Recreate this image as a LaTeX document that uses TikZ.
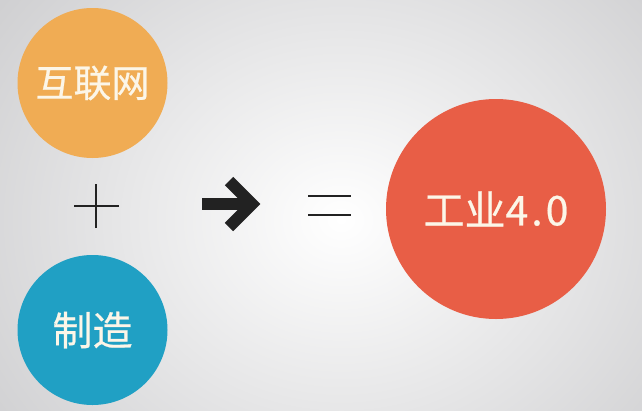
\documentclass[tikz,border=0pt]{standalone}
\usepackage{fontspec}
\newfontfamily\cjk[FakeBold=0.6]{Noto Sans CJK SC}
\definecolor{orangeC}{RGB}{240,172,84}
\definecolor{blueC}{RGB}{32,160,196}
\definecolor{redC}{RGB}{232,94,70}
\definecolor{textC}{RGB}{252,246,232}
\definecolor{inkC}{RGB}{34,34,34}
\definecolor{bgOut}{RGB}{206,206,208}
\begin{document}
\begin{tikzpicture}[x=1pt,y=-1pt,
  bubble/.style={circle,inner sep=0pt,text=textC,font=\cjk\fontsize{38}{40}\selectfont},
  symline/.style={draw=inkC,line width=2.4pt}]
\useasboundingbox (0,0) rectangle (642,410);
\shade[inner color=white,outer color=bgOut] (-100,-160) rectangle (782,600);
\node[bubble,fill=orangeC,minimum size=150pt] (net) at (92.5,83) {互联网};
\node[bubble,fill=blueC,minimum size=150pt,font=\cjk\fontsize{40}{42}\selectfont] (make) at (92.5,330) {制造};
\node[bubble,fill=redC,minimum size=220pt,font=\cjk\fontsize{41}{43}\selectfont] (ind) at (496,209) {工业4{\kern3pt}.{\kern3pt}0};
% plus
\coordinate (plus) at (96,206);
\draw[symline,line width=2.2pt] ([xshift=-22pt]plus) -- ([xshift=23pt]plus);
\draw[symline,line width=2.2pt] ([yshift=-22pt]plus) -- ([yshift=22pt]plus);
% arrow
\coordinate (arr) at (252,204);
\draw[inkC,line width=12pt] (202,204) -- ([xshift=-4pt]arr);
\draw[inkC,line width=12pt,miter limit=10] ([shift={(-23pt,23pt)}]arr) -- (arr) -- ([shift={(-23pt,-23pt)}]arr);
% equals
\coordinate (eq) at (329.5,205.5);
\draw[symline] ([shift={(-21.5pt,-9.5pt)}]eq) -- ([shift={(21.5pt,-9.5pt)}]eq);
\draw[symline] ([shift={(-21.5pt,9.5pt)}]eq) -- ([shift={(21.5pt,9.5pt)}]eq);
\end{tikzpicture}
\end{document}
